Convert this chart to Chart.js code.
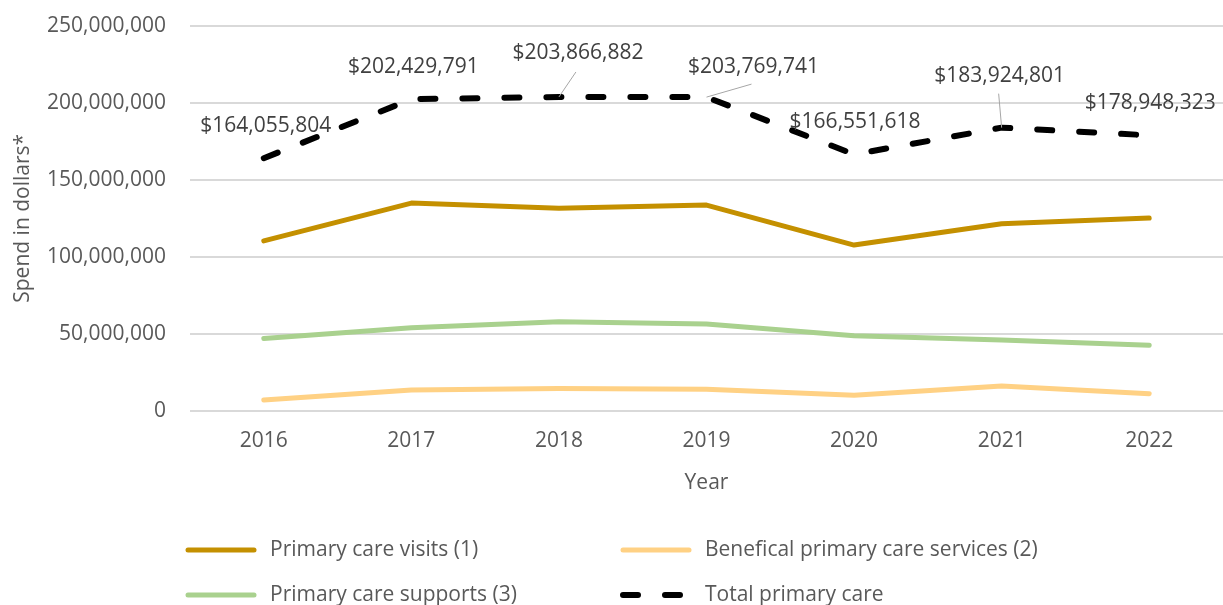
<!DOCTYPE html>
<html>
<head>
<meta charset="utf-8">
<script src="https://cdn.jsdelivr.net/npm/chart.js@4.4.1/dist/chart.umd.min.js"></script>
<style>
  html, body { margin: 0; padding: 0; background: #fff; }
  canvas { display: block; }
</style>
</head>
<body>
<canvas id="spendChart" width="1223" height="605"></canvas>
<script>
// Data
const years = ["2016", "2017", "2018", "2019", "2020", "2021", "2022"];
const primaryVisits = [110300000, 134900000, 131600000, 133600000, 107600000, 121500000, 125200000];
const beneficialServices = [6900000, 13400000, 14300000, 13800000, 9900000, 16000000, 11000000];
const primarySupports = [46800000, 53900000, 57800000, 56300000, 48700000, 45900000, 42400000];
const totalPrimary = [164055804, 202429791, 203866882, 203769741, 166551618, 183924801, 178948323];
const yTicks = [0, 50000000, 100000000, 150000000, 200000000, 250000000];

// where each total label sits, relative to its point (x, y)
const labelOffsets = [[2, -32], [2, -32], [19, -44], [47, -30], [1, -32], [-2, -52], [1, -32]];
// leader line ends, relative to the point (null = no line)
const leaderEnds = [null, null, [17, -25], [45, -13], null, [-3, -34], null];

const FONT = "'Open Sans'";
const textGray = "#595959";

const fmt = v => v.toLocaleString("en-US");

// total labels with leader lines
const totalLabels = {
  id: "totalLabels",
  afterDatasetsDraw(chart) {
    const meta = chart.getDatasetMeta(3);
    const ctx = chart.ctx;
    ctx.save();
    meta.data.forEach((pt, i) => {
      const end = leaderEnds[i];
      if (end) {
        ctx.strokeStyle = "#a6a6a6";
        ctx.lineWidth = 1;
        ctx.beginPath();
        ctx.moveTo(pt.x, pt.y);
        ctx.lineTo(pt.x + end[0], pt.y + end[1]);
        ctx.stroke();
      }
      ctx.font = "21px " + FONT;
      ctx.fillStyle = "#404040";
      ctx.textAlign = "center";
      ctx.textBaseline = "middle";
      ctx.fillText("$" + fmt(totalPrimary[i]), pt.x + labelOffsets[i][0], pt.y + labelOffsets[i][1]);
    });
    ctx.restore();
  }
};

// two column legend under the chart
const gridLegend = {
  id: "gridLegend",
  afterDraw(chart) {
    const ctx = chart.ctx;
    const cols = [185, 620];
    const rows = [550, 595];
    ctx.save();
    chart.data.datasets.forEach((ds, k) => {
      const x = cols[k % 2];
      const y = rows[Math.floor(k / 2)];
      ctx.strokeStyle = ds.borderColor;
      ctx.lineWidth = ds.borderWidth;
      ctx.lineCap = "round";
      ctx.setLineDash(ds.borderDash || []);
      ctx.beginPath();
      ctx.moveTo(x + 3, y);
      ctx.lineTo(x + 69, y);
      ctx.stroke();
      ctx.setLineDash([]);
      ctx.font = "21px " + FONT;
      ctx.fillStyle = textGray;
      ctx.textAlign = "left";
      ctx.textBaseline = "middle";
      ctx.fillText(ds.label, x + 85, y);
    });
    ctx.restore();
  }
};

Chart.defaults.font.family = FONT;
Chart.defaults.font.size = 21;
Chart.defaults.color = textGray;

new Chart(document.getElementById("spendChart"), {
  type: "line",
  data: {
    labels: years,
    datasets: [
      {
        label: "Primary care visits (1)",
        data: primaryVisits,
        borderColor: "#c49000",
        borderWidth: 5,
      },
      {
        label: "Benefical primary care services (2)",
        data: beneficialServices,
        borderColor: "#ffd184",
        borderWidth: 5,
      },
      {
        label: "Primary care supports (3)",
        data: primarySupports,
        borderColor: "#a9d18e",
        borderWidth: 5,
      },
      {
        label: "Total primary care",
        data: totalPrimary,
        borderColor: "#000000",
        borderWidth: 6,
        borderDash: [15, 27],
      },
    ],
  },
  options: {
    responsive: false,
    animation: false,
    devicePixelRatio: 1,
    layout: { padding: { top: 26, right: 0, bottom: 109, left: 0 } },
    elements: {
      point: { radius: 0, hoverRadius: 0 },
      line: { tension: 0, borderCapStyle: "round", borderJoinStyle: "round", fill: false },
    },
    plugins: {
      legend: { display: false },
      tooltip: { enabled: false },
    },
    scales: {
      x: {
        offset: true,
        grid: { display: false },
        border: { display: false },
        ticks: { padding: 10, color: textGray },
        title: { display: true, text: "Year", color: textGray, padding: { top: 7, bottom: 0 } },
      },
      y: {
        min: 0,
        max: 250000000,
        afterBuildTicks: axis => { axis.ticks = yTicks.map(v => ({ value: v })); },
        afterFit: scale => {
          scale.width = 190;
          scale.paddingTop = 0;
          scale.paddingBottom = 0;
        },
        grid: { color: "#d9d9d9", lineWidth: 2, drawTicks: false },
        border: { display: false },
        ticks: { padding: 24, color: textGray, callback: v => fmt(v) },
        title: { display: true, text: "Spend in dollars*", color: textGray, padding: { top: 10, bottom: 0 } },
      },
    },
  },
  plugins: [totalLabels, gridLegend],
});
</script>
</body>
</html>
